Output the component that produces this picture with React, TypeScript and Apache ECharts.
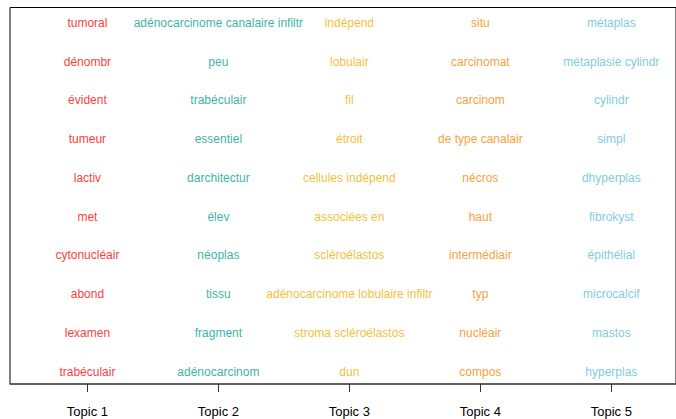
import React, { useEffect, useRef } from "react";
import * as echarts from "echarts";

const topics = ["Topic 1", "Topic 2", "Topic 3", "Topic 4", "Topic 5"];

const topic1 = ["tumoral", "dénombr", "évident", "tumeur", "lactiv", "met", "cytonucléair", "abond", "lexamen", "trabéculair"];
const topic2 = ["adénocarcinome canalaire infiltr", "peu", "trabéculair", "essentiel", "darchitectur", "élev", "néoplas", "tissu", "fragment", "adénocarcinom"];
const topic3 = ["indépend", "lobulair", "fil", "étroit", "cellules indépend", "associées en", "scléroélastos", "adénocarcinome lobulaire infiltr", "stroma scléroélastos", "dun"];
const topic4 = ["situ", "carcinomat", "carcinom", "de type canalair", "nécros", "haut", "intermédiair", "typ", "nucléair", "compos"];
const topic5 = ["métaplas", "métaplasie cylindr", "cylindr", "simpl", "dhyperplas", "fibrokyst", "épithélial", "microcalcif", "mastos", "hyperplas"];

const topicWords = [topic1, topic2, topic3, topic4, topic5];
const colors = [
  "rgba(255,0,0,0.8)",
  "rgba(0,160,138,0.8)",
  "rgba(242,173,0,0.8)",
  "rgba(249,132,0,0.8)",
  "rgba(91,188,214,0.8)",
];

export default function App() {
  const ref = useRef<HTMLDivElement>(null);
  useEffect(() => {
    document.body.style.margin = "0";
    const chart = echarts.init(ref.current!, null, { renderer: "svg" });
    const series = topicWords.map((words, ti) => ({
      type: "custom",
      name: topics[ti],
      data: words.map((w, ri) => [ti + 1, ri + 1, w]),
      renderItem: (params: any, api: any) => {
        const p = api.coord([api.value(0), api.value(1)]);
        return {
          type: "text",
          x: p[0],
          y: p[1],
          style: {
            text: words[params.dataIndex],
            fill: colors[ti],
            font: '12px "Liberation Sans", Arial, sans-serif',
            align: "center",
            verticalAlign: "middle",
          },
        };
      },
    }));
    chart.setOption({
      animation: false,
      grid: {
        left: 10,
        top: 7.5,
        right: 0,
        bottom: 35,
        show: true,
        borderColor: "#000",
        borderWidth: 1,
        backgroundColor: "transparent",
      },
      xAxis: {
        type: "value",
        min: 0.409,
        max: 5.494,
        splitLine: { show: false },
        axisLine: { show: true, onZero: false, lineStyle: { color: "#555", width: 1.5 } },
        axisTick: { show: true, customValues: [1, 2, 3, 4, 5], length: 8, lineStyle: { color: "#333" } },
        axisLabel: {
          customValues: [1, 2, 3, 4, 5],
          formatter: (v: number) => topics[Math.round(v) - 1],
          margin: 21,
          color: "#000",
          fontSize: 13,
          fontFamily: '"Liberation Sans", Arial, sans-serif',
        },
      },
      yAxis: {
        type: "value",
        inverse: true,
        min: 0.605,
        max: 10.32,
        show: false,
        splitLine: { show: false },
      },
      series,
    });
    return () => chart.dispose();
  }, []);
  return <div ref={ref} style={{ width: 676, height: 419 }} />;
}
